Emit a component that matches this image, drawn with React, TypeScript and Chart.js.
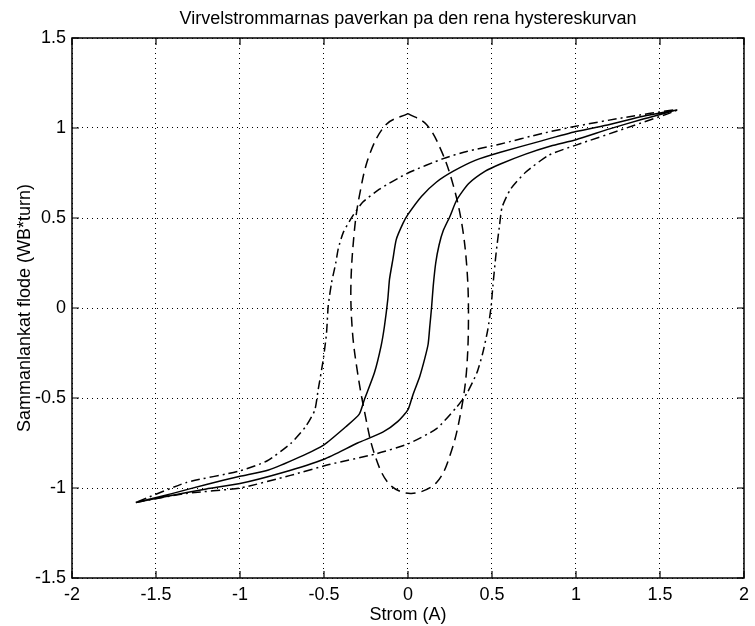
import React, { useEffect, useRef } from 'react';
import { Chart, registerables } from 'chart.js';

Chart.register(...registerables);

const titleText = 'Virvelstrommarnas paverkan pa den rena hystereskurvan';
const xTitle = 'Strom (A)';
const yTitle = 'Sammanlankat flode (WB*turn)';

const xTicks = [-2, -1.5, -1, -0.5, 0, 0.5, 1, 1.5, 2];
const yTicks = [-1.5, -1, -0.5, 0, 0.5, 1, 1.5];

// Solid loop: ascending branch then descending branch
const solidX = [
  -1.62, -1.4, -1.2, -1.0, -0.75, -0.5, -0.3, -0.15, -0.06, 0.0, 0.03, 0.07, 0.1, 0.12, 0.13, 0.14, 0.15, 0.165, 0.185, 0.21, 0.25, 0.29, 0.36, 0.46, 0.55, 0.7, 0.85, 1.0, 1.2, 1.4, 1.6,
  1.4, 1.2, 1.0, 0.8, 0.55, 0.4, 0.27, 0.17, 0.08, 0.0, -0.03, -0.07, -0.09, -0.11, -0.12, -0.14, -0.16, -0.2, -0.26, -0.29, -0.37, -0.5, -0.65, -0.83, -1.0, -1.2, -1.4, -1.62,
];
const solidY = [
  -1.08, -1.04, -1.005, -0.975, -0.915, -0.84, -0.75, -0.69, -0.63, -0.565, -0.48, -0.38, -0.28, -0.2, -0.1, 0.0, 0.12, 0.25, 0.35, 0.43, 0.51, 0.6, 0.69, 0.76, 0.8, 0.855, 0.9, 0.935, 0.995, 1.05, 1.1,
  1.065, 1.02, 0.98, 0.93, 0.865, 0.82, 0.76, 0.7, 0.62, 0.52, 0.47, 0.38, 0.27, 0.16, 0.05, -0.1, -0.21, -0.36, -0.51, -0.59, -0.66, -0.76, -0.83, -0.9, -0.935, -0.98, -1.03, -1.08,
];

// Dashed (ellipse-like) loop
const dashedX = [0, 0.11, 0.2, 0.27, 0.32, 0.35, 0.36, 0.35, 0.32, 0.26, 0.17, 0.02, -0.11, -0.2, -0.26, -0.3, -0.33, -0.34, -0.32, -0.29, -0.23, -0.13, 0];
const dashedY = [1.08, 1.02, 0.87, 0.68, 0.47, 0.23, -0.03, -0.33, -0.55, -0.79, -0.97, -1.03, -0.98, -0.81, -0.57, -0.36, -0.14, 0.12, 0.42, 0.62, 0.85, 1.02, 1.08];

// Dash-dot loop: ascending branch then descending branch
const dashDotX = [
  -1.62, -1.32, -1.0, -0.7, -0.47, -0.19, 0.0, 0.17, 0.29, 0.35, 0.41, 0.445, 0.475, 0.495, 0.505, 0.525, 0.545, 0.56, 0.61, 0.7, 0.84, 1.0, 1.3, 1.6,
  1.3, 1.0, 0.8, 0.545, 0.35, 0.21, 0.0, -0.17, -0.27, -0.33, -0.385, -0.415, -0.43, -0.455, -0.475, -0.485, -0.505, -0.535, -0.555, -0.61, -0.7, -0.84, -1.0, -1.32, -1.62,
];
const dashDotY = [
  -1.08, -1.03, -1.0, -0.93, -0.87, -0.81, -0.755, -0.67, -0.55, -0.475, -0.36, -0.25, -0.12, 0.01, 0.12, 0.31, 0.46, 0.56, 0.66, 0.754, 0.85, 0.905, 1.0, 1.1,
  1.06, 1.01, 0.97, 0.91, 0.87, 0.83, 0.75, 0.66, 0.587, 0.51, 0.42, 0.33, 0.25, 0.14, 0.01, -0.14, -0.29, -0.456, -0.568, -0.66, -0.754, -0.85, -0.905, -0.97, -1.08,
];

const toPoints = (xs: number[], ys: number[]) => xs.map((x, i) => ({ x, y: ys[i] }));

const FONT = "'Liberation Sans', Arial, Helvetica, sans-serif";

const framePlugin = {
  id: 'matlabFrame',
  afterDraw(chart: any) {
    const { ctx, chartArea } = chart;
    const { left, right, top, bottom } = chartArea;
    ctx.save();
    ctx.strokeStyle = '#000';
    ctx.lineWidth = 1.5;
    ctx.setLineDash([]);
    ctx.strokeRect(left, top, right - left, bottom - top);
    ctx.lineWidth = 1.2;
    const len = 7;
    chart.scales.x.ticks.forEach((t: any) => {
      const px = chart.scales.x.getPixelForValue(t.value);
      ctx.beginPath();
      ctx.moveTo(px, bottom);
      ctx.lineTo(px, bottom - len);
      ctx.moveTo(px, top);
      ctx.lineTo(px, top + len);
      ctx.stroke();
    });
    chart.scales.y.ticks.forEach((t: any) => {
      const py = chart.scales.y.getPixelForValue(t.value);
      ctx.beginPath();
      ctx.moveTo(left, py);
      ctx.lineTo(left + len, py);
      ctx.moveTo(right, py);
      ctx.lineTo(right - len, py);
      ctx.stroke();
    });
    ctx.restore();
  },
};

export default function App() {
  const ref = useRef<HTMLCanvasElement | null>(null);

  useEffect(() => {
    if (!ref.current) return;
    const chart = new Chart(ref.current, {
      type: 'scatter',
      data: {
        datasets: [
          {
            label: 'solid',
            data: toPoints(solidX, solidY),
            showLine: true,
            borderColor: '#000',
            borderWidth: 1.5,
            pointRadius: 0,
            tension: 0.2,
            fill: false,
          },
          {
            label: 'dashed',
            data: toPoints(dashedX, dashedY),
            showLine: true,
            borderColor: '#000',
            borderWidth: 1.5,
            borderDash: [10, 6],
            pointRadius: 0,
            tension: 0.35,
            fill: false,
          },
          {
            label: 'dashdot',
            data: toPoints(dashDotX, dashDotY),
            showLine: true,
            borderColor: '#000',
            borderWidth: 1.5,
            borderDash: [9, 4, 2, 4],
            pointRadius: 0,
            tension: 0.2,
            fill: false,
          },
        ],
      },
      options: {
        animation: false,
        responsive: false,
        layout: { padding: { left: 0, right: 7, top: 0, bottom: 0 } },
        plugins: {
          legend: { display: false },
          tooltip: { enabled: false },
          title: {
            display: true,
            text: titleText,
            fullSize: false,
            color: '#000',
            font: { family: FONT, size: 18, weight: 'normal' },
            padding: { top: 8, bottom: 8.4 },
          },
        },
        scales: {
          x: {
            type: 'linear',
            min: -2,
            max: 2,
            afterBuildTicks: (s: any) => {
              s.ticks = xTicks.map((v) => ({ value: v }));
            },
            afterFit: (s: any) => {
              s.height = 48;
            },
            ticks: {
              color: '#000',
              font: { family: FONT, size: 18 },
              padding: 6,
              maxRotation: 0,
              autoSkip: false,
              callback: (v: any) => String(v),
            },
            grid: { color: '#000', lineWidth: 1, drawTicks: false },
            border: { display: false, dash: [1, 4] },
            title: {
              display: true,
              text: xTitle,
              color: '#000',
              font: { family: FONT, size: 18 },
              padding: { top: 0, bottom: 0 },
            },
          },
          y: {
            type: 'linear',
            min: -1.5,
            max: 1.5,
            afterBuildTicks: (s: any) => {
              s.ticks = yTicks.map((v) => ({ value: v }));
            },
            afterFit: (s: any) => {
              s.width = 72;
            },
            ticks: {
              color: '#000',
              font: { family: FONT, size: 18 },
              padding: 6,
              autoSkip: false,
              callback: (v: any) => String(v),
            },
            grid: { color: '#000', lineWidth: 1, drawTicks: false },
            border: { display: false, dash: [1, 4] },
            title: {
              display: true,
              text: yTitle,
              color: '#000',
              font: { family: FONT, size: 18 },
              padding: { top: 14, bottom: 0 },
            },
          },
        },
      },
      plugins: [framePlugin],
    });
    return () => chart.destroy();
  }, []);

  return (
    <div style={{ position: 'absolute', left: 0, top: 0, width: 755, height: 626, background: '#fff' }}>
      <canvas ref={ref} width={755} height={626} />
    </div>
  );
}
